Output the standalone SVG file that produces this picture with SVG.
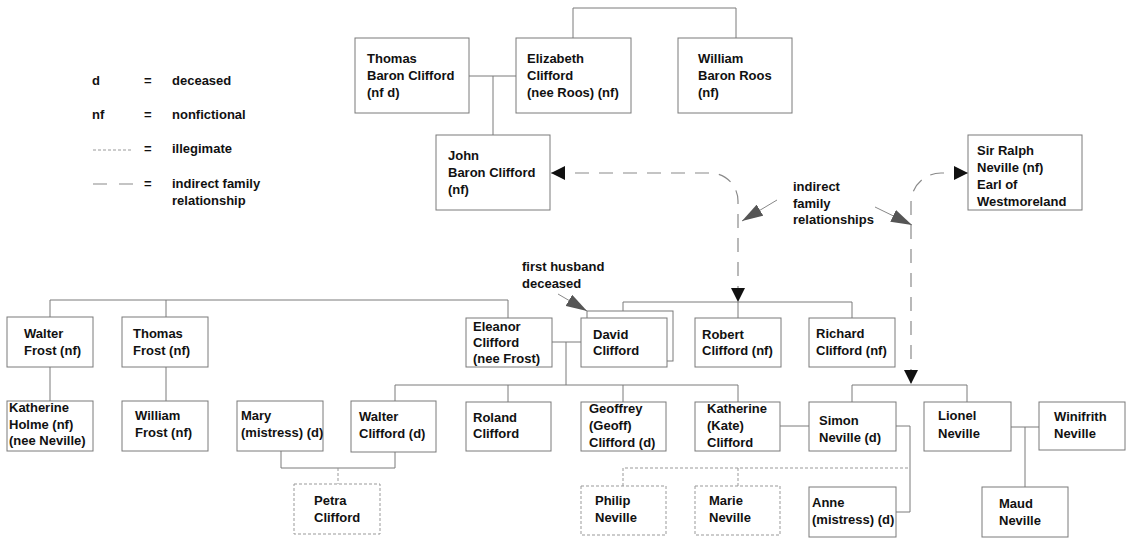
<svg xmlns="http://www.w3.org/2000/svg" width="1126" height="540" viewBox="0 0 1126 540">
<style>
text{font-family:"Liberation Sans",Arial,sans-serif;font-size:13px;font-weight:bold;fill:#111}
.box{fill:#fff;stroke:#7a7a7a;stroke-width:1}
.dbox{fill:#fff;stroke:#999;stroke-width:1;stroke-dasharray:3,2}
.ln{fill:none;stroke:#7a7a7a;stroke-width:1}
.ill{fill:none;stroke:#999;stroke-width:1;stroke-dasharray:3,2}
.ind{fill:none;stroke:#8a8a8a;stroke-width:1.2;stroke-dasharray:14,10}
.ann{fill:none;stroke:#888;stroke-width:1}
</style>
<defs>
<marker id="barrow" markerUnits="userSpaceOnUse" markerWidth="14" markerHeight="14" viewBox="0 0 14 14" refX="14" refY="7" orient="auto-start-reverse"><path d="M0,0 L14,7 L0,14 Z" fill="#111"/></marker>
<marker id="garrow" markerUnits="userSpaceOnUse" markerWidth="21" markerHeight="13" viewBox="0 0 21 13" refX="21" refY="6.5" orient="auto"><path d="M0,0 L21,6.5 L0,13 Z" fill="#555"/></marker>
</defs>
<rect width="1126" height="540" fill="#fff"/>

<g id="legend">
<text x="92" y="85">d</text><text x="144" y="85">=</text><text x="172" y="85">deceased</text>
<text x="92" y="119">nf</text><text x="144" y="119">=</text><text x="172" y="119">nonfictional</text>
<line x1="93" y1="150" x2="132" y2="150" class="ill"/><text x="144" y="153">=</text><text x="172" y="153">illegimate</text>
<line x1="93" y1="184" x2="133" y2="184" fill="none" stroke="#8a8a8a" stroke-width="1.2" stroke-dasharray="14,12"/><text x="144" y="188">=</text><text x="172" y="188">indirect family</text><text x="172" y="205">relationship</text>
</g>

<g id="connectors">
<path class="ln" d="M573,38 V8 H736 V38"/>
<path class="ln" d="M469,76 H516 M493,76 V135"/>
<path class="ln" d="M50,317 V300 H508 V318 M166,300 V317"/>
<path class="ln" d="M50,367 V401 M166,367 V401"/>
<path class="ln" d="M552,342 H581 M566,342 V385"/>
<path class="ln" d="M395,401 V385 H738 V402 M508,385 V402 M623,385 V402"/>
<path class="ln" d="M281,451 V468 H395 V452"/>
<path class="ill" d="M338,468 V484"/>
<path class="ln" d="M623,311 V302 H852 V318 M738,302 V318"/>
<path class="ln" d="M780,426 H809"/>
<path class="ln" d="M852,402 V385 H967 V402"/>
<path class="ln" d="M896,426 H910 V512 H896"/>
<path class="ln" d="M1011,427 H1039 M1025,427 V487"/>
<path class="ill" d="M623,486 V468 H910 M738,468 V486"/>
<path class="ind" d="M551,173 H710 A28,28 0 0 1 738,201 V302" marker-start="url(#barrow)" marker-end="url(#barrow)"/>
<path class="ind" d="M968,173 H941 A30,30 0 0 0 911,203 V384" marker-start="url(#barrow)" marker-end="url(#barrow)"/>
<path class="ann" d="M558,294 L587,311" marker-end="url(#garrow)"/>
<path class="ann" d="M777,200 L742,221" marker-end="url(#garrow)"/>
<path class="ann" d="M875,207 L912,225" marker-end="url(#garrow)"/>
</g>

<g id="label-first-husband"><text x="522" y="271">first husband</text><text x="522" y="288">deceased</text></g>
<g id="label-indirect"><text x="793" y="191">indirect</text><text x="793" y="208">family</text><text x="793" y="224">relationships</text></g>

<g id="thomas-baron-clifford"><rect class="box" x="355" y="38" width="114" height="75"/><text x="367" y="63">Thomas</text><text x="367" y="80">Baron Clifford</text><text x="367" y="97">(nf d)</text></g>
<g id="elizabeth-clifford"><rect class="box" x="516" y="38" width="115" height="75"/><text x="527" y="63">Elizabeth</text><text x="527" y="80">Clifford</text><text x="527" y="97">(nee Roos) (nf)</text></g>
<g id="william-baron-roos"><rect class="box" x="678" y="38" width="114" height="75"/><text x="698" y="63">William</text><text x="698" y="80">Baron Roos</text><text x="698" y="97">(nf)</text></g>
<g id="john-baron-clifford"><rect class="box" x="436" y="135" width="114" height="75"/><text x="448" y="160">John</text><text x="448" y="177">Baron Clifford</text><text x="448" y="194">(nf)</text></g>
<g id="sir-ralph-neville"><rect class="box" x="968" y="135" width="114" height="75"/><text x="977" y="155">Sir Ralph</text><text x="977" y="172">Neville (nf)</text><text x="977" y="189">Earl of</text><text x="977" y="206">Westmoreland</text></g>

<g id="walter-frost"><rect class="box" x="7" y="317" width="86" height="50"/><text x="24" y="338">Walter</text><text x="24" y="355">Frost (nf)</text></g>
<g id="thomas-frost"><rect class="box" x="122" y="317" width="86" height="50"/><text x="133" y="338">Thomas</text><text x="133" y="355">Frost (nf)</text></g>
<g id="eleanor-clifford"><rect class="box" x="466" y="318" width="86" height="49"/><text x="473" y="331">Eleanor</text><text x="473" y="347">Clifford</text><text x="473" y="363">(nee Frost)</text></g>
<g id="david-clifford"><rect class="box" x="587" y="311" width="86" height="50"/><rect class="box" x="581" y="318" width="86" height="49"/><text x="593" y="339">David</text><text x="593" y="355">Clifford</text></g>
<g id="robert-clifford"><rect class="box" x="695" y="318" width="86" height="49"/><text x="702" y="339">Robert</text><text x="702" y="355">Clifford (nf)</text></g>
<g id="richard-clifford"><rect class="box" x="809" y="318" width="86" height="49"/><text x="816" y="338">Richard</text><text x="816" y="355">Clifford (nf)</text></g>

<g id="katherine-holme"><rect class="box" x="7" y="401" width="86" height="50"/><text x="9" y="412">Katherine</text><text x="9" y="429">Holme (nf)</text><text x="9" y="445">(nee Neville)</text></g>
<g id="william-frost"><rect class="box" x="122" y="401" width="86" height="50"/><text x="135" y="420">William</text><text x="135" y="437">Frost (nf)</text></g>
<g id="mary"><rect class="box" x="237" y="401" width="86" height="50"/><text x="241" y="420">Mary</text><text x="241" y="437">(mistress) (d)</text></g>
<g id="walter-clifford"><rect class="box" x="351" y="401" width="85" height="51"/><text x="359" y="421">Walter</text><text x="359" y="438">Clifford (d)</text></g>
<g id="roland-clifford"><rect class="box" x="466" y="402" width="85" height="49"/><text x="473" y="422">Roland</text><text x="473" y="438">Clifford</text></g>
<g id="geoffrey-clifford"><rect class="box" x="581" y="402" width="85" height="49"/><text x="589" y="413">Geoffrey</text><text x="589" y="430">(Geoff)</text><text x="589" y="447">Clifford (d)</text></g>
<g id="katherine-clifford"><rect class="box" x="695" y="402" width="85" height="49"/><text x="707" y="413">Katherine</text><text x="707" y="430">(Kate)</text><text x="707" y="447">Clifford</text></g>
<g id="simon-neville"><rect class="box" x="809" y="402" width="87" height="49"/><text x="819" y="425">Simon</text><text x="819" y="442">Neville (d)</text></g>
<g id="lionel-neville"><rect class="box" x="924" y="402" width="87" height="49"/><text x="938" y="420">Lionel</text><text x="938" y="438">Neville</text></g>
<g id="winifrith-neville"><rect class="box" x="1039" y="402" width="86" height="48"/><text x="1054" y="421">Winifrith</text><text x="1054" y="438">Neville</text></g>

<g id="petra-clifford"><rect class="dbox" x="294" y="484" width="86" height="50"/><text x="314" y="505">Petra</text><text x="314" y="522">Clifford</text></g>
<g id="philip-neville"><rect class="dbox" x="581" y="486" width="85" height="49"/><text x="595" y="505">Philip</text><text x="595" y="522">Neville</text></g>
<g id="marie-neville"><rect class="dbox" x="695" y="486" width="85" height="49"/><text x="709" y="505">Marie</text><text x="709" y="522">Neville</text></g>
<g id="anne"><rect class="box" x="809" y="487" width="87" height="50"/><text x="812" y="507">Anne</text><text x="812" y="524">(mistress) (d)</text></g>
<g id="maud-neville"><rect class="box" x="982" y="487" width="86" height="50"/><text x="999" y="508">Maud</text><text x="999" y="525">Neville</text></g>
</svg>
